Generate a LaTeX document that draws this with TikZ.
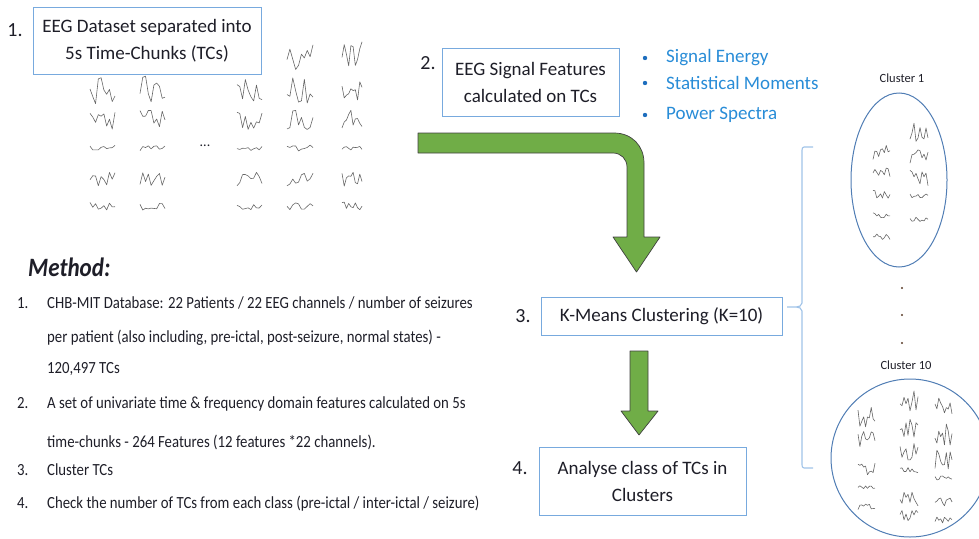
\documentclass[tikz,border=0pt]{standalone}
\usepackage{fontspec}
\setmainfont{Carlito}
\newfontfamily\condfont[FakeStretch=0.87]{Carlito}
\definecolor{txt}{RGB}{30,30,40}
\definecolor{boxblue}{RGB}{120,170,222}
\definecolor{featblue}{RGB}{40,140,215}
\definecolor{bullblue}{RGB}{30,110,190}
\definecolor{arrgreen}{RGB}{112,173,71}
\definecolor{ellblue}{RGB}{80,125,180}
\definecolor{brkblue}{RGB}{160,195,232}
\definecolor{dotcol}{RGB}{90,60,40}
\tikzset{
  box/.style={draw=boxblue, line width=0.9pt, fill=white, align=center, text=txt,
    font=\fontsize{19}{27}\selectfont, inner sep=0pt},
  numlab/.style={text=txt, font=\fontsize{20}{24}\selectfont, inner sep=0pt},
  featlab/.style={text=featblue, font=\fontsize{19}{23}\selectfont, anchor=west, inner sep=0pt},
  methlab/.style={text=txt, font=\condfont\fontsize{17}{20}\selectfont, anchor=base west, inner sep=0pt},
  clulab/.style={text=txt, font=\fontsize{12.5}{15}\selectfont, inner sep=0pt},
  wave/.style={draw=black!60, line width=0.6pt, line join=round},
  blockarrow/.style={fill=arrgreen, draw=black!75, line width=0.7pt, line join=round},
  cluell/.style={draw=ellblue, line width=1pt},
  brk/.style={draw=brkblue, line width=1.1pt},
}
\newcommand\wv[4]{\draw[wave] plot[domain=0:#3, samples=10, variable=\t] ({#1+\t},{#2+#4*rand});}
\begin{document}
\begin{tikzpicture}[x=1pt, y=-1pt]
\useasboundingbox (0,0) rectangle (979,538);
\pgfmathsetseed{4711}
% ---- main grid of EEG time chunks
\foreach \cx/\w [count=\c] in {90/25,140/25,237/25,287/26,342/20}{
  \foreach \ry/\am [count=\r] in {55/15,90/14,120/10,148/3,180/8,206/4}{
    \wv{\cx}{\ry}{\w}{\am}
  }
}
\node[text=txt, font=\fontsize{14}{14}\selectfont] (dots) at (205,146) {...};
% ---- boxes
\node[box, minimum width=228pt, minimum height=67pt] (b1) at (147,40.5) {EEG Dataset separated into\\5s Time-Chunks (TCs)};
\node[numlab] (n1) at (15,30) {1.};
\node[box, minimum width=177pt, minimum height=68pt] (b2) at (530.5,82) {EEG Signal Features\\calculated on TCs};
\node[numlab] (n2) at (428,63) {2.};
\node[box, minimum width=241pt, minimum height=38pt] (b3) at (661.5,316) {K-Means Clustering (K=10)};
\node[numlab] (n3) at (523,316) {3.};
\node[box, minimum width=207pt, minimum height=68pt] (b4) at (642.5,481) {Analyse class of TCs in\\Clusters};
\node[numlab] (n4) at (520,468) {4.};
% ---- feature list
\foreach \yy/\tx [count=\i] in {58/Signal Energy,83/Statistical Moments,115/Power Spectra}{
  \fill[bullblue] (645,\yy) circle (2.2pt);
  \node[featlab] (f\i) at (666,\yy) {\tx};
}
% ---- block arrows
\draw[blockarrow] (418,133) -- (614,133) .. controls (632,133) and (644,146) .. (644,163)
  -- (644,237) -- (660,237) -- (636.5,272) -- (613,237) -- (627,237) -- (627,167)
  .. controls (627,159) and (621,153) .. (613,153) -- (418,153) -- cycle;
\draw[blockarrow] (630,351) -- (648,351) -- (648,411) -- (658,411) -- (639,435)
  -- (621,411) -- (630,411) -- cycle;
% ---- method text
\node[text=txt, font=\condfont\bfseries\itshape\fontsize{26.5}{30}\selectfont, anchor=base west, inner sep=0pt] (mh) at (28,276) {Method:};
\node[methlab] (m1n) at (17,308) {1.};
\node[methlab] (m1a) at (47,308) {CHB-MIT Database: 22 Patients / 22 EEG channels / number of seizures};
\node[methlab] (m1b) at (47,342) {per patient (also including, pre-ictal, post-seizure, normal states) -};
\node[methlab] (m1c) at (47,373) {120,497 TCs};
\node[methlab] (m2n) at (17,408) {2.};
\node[methlab] (m2a) at (47,408) {A set of univariate time \& frequency domain features calculated on 5s};
\node[methlab] (m2b) at (47,447) {time-chunks - 264 Features (12 features *22 channels).};
\node[methlab] (m3n) at (17,475) {3.};
\node[methlab] (m3a) at (47,475) {Cluster TCs};
\node[methlab] (m4n) at (17,508) {4.};
\node[methlab] (m4a) at (47,508) {Check the number of TCs from each class (pre-ictal / inter-ictal / seizure)};
% ---- bracket
\draw[brk] (813,147) -- (804,147) to[out=180,in=90] (802,150) -- (802,303)
  to[out=-90,in=0] (796,307) -- (787,307) -- (796,307) to[out=0,in=90] (802,311)
  -- (802,465) to[out=-90,in=180] (804,468) -- (813,468);
% ---- clusters
\node[clulab] (c1) at (902,78) {Cluster 1};
\draw[cluell] (899,180) ellipse [x radius=48, y radius=87];
\foreach \ry/\am in {152/8,172/5,195/7,215/3,237/3}{ \wv{873}{\ry}{17}{\am} }
\foreach \ry/\am in {130/12,155/10,180/10,196/2,220/3}{ \wv{910}{\ry}{18}{\am} }
\foreach \yy in {288,315,343}{ \fill[dotcol] (902,\yy) circle (1.1pt); }
\node[clulab] (c10) at (906,365) {Cluster 10};
\begin{scope}
\clip (0,0) rectangle (979,538);
\draw[cluell] (910,458) ellipse [x radius=79, y radius=79];
\end{scope}
\foreach \ry/\am in {415/12,440/10,467/9,487/2,507/3}{ \wv{858}{\ry}{17}{\am} }
\foreach \ry/\am in {403/12,428/10,452/9,470/4,497/10,515/6}{ \wv{900}{\ry}{18}{\am} }
\foreach \ry/\am in {410/12,435/12,460/10,478/2,502/4,520/3}{ \wv{935}{\ry}{17}{\am} }
\end{tikzpicture}
\end{document}
